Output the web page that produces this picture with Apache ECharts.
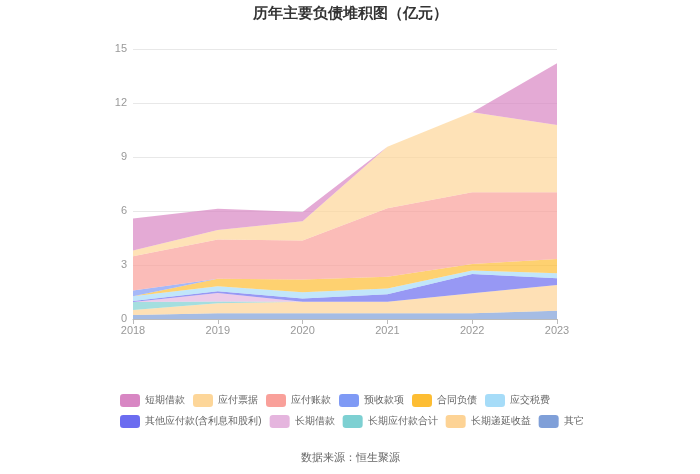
<!DOCTYPE html>
<html>
<head>
<meta charset="utf-8">
<script src="https://cdn.jsdelivr.net/npm/echarts@6/dist/echarts.min.js"></script>
<style>html,body{margin:0;padding:0;background:#fff;}#c{width:700px;height:474px;}</style>
</head>
<body>
<div id="c"></div>
<script>
var years = ['2018','2019','2020','2021','2022','2023'];
var yTicks = [0, 3, 6, 9, 12, 15];
var shortLoan = [1.77, 1.18, 0.52, 0, 0, 3.43];
var notesPayable = [0.33, 0.52, 1.07, 3.42, 4.44, 3.74];
var accountsPayable = [1.89, 2.19, 2.17, 3.80, 3.98, 3.71];
var advanceReceipts = [0.32, 0, 0, 0, 0, 0];
var contractLiab = [0, 0.41, 0.70, 0.65, 0.37, 0.79];
var taxPayable = [0.27, 0.28, 0.35, 0.33, 0.19, 0.28];
var otherPayable = [0.05, 0.10, 0.18, 0.41, 1.07, 0.37];
var longLoan = [0, 0.47, 0, 0, 0, 0];
var longPayable = [0.45, 0.10, 0, 0, 0, 0];
var deferredIncome = [0.28, 0.55, 0.64, 0.64, 1.11, 1.43];
var others = [0.22, 0.32, 0.32, 0.32, 0.32, 0.46];

var legendNames = ['短期借款','应付票据','应付账款','预收款项','合同负债','应交税费','其他应付款(含利息和股利)','长期借款','长期应付款合计','长期递延收益','其它'];
var colors = {
  '短期借款':'#d886c3','应付票据':'#fdd699','应付账款':'#f9a09a','预收款项':'#7f9af5',
  '合同负债':'#fdbd33','应交税费':'#a6dcf8','其他应付款(含利息和股利)':'#6b6cf0',
  '长期借款':'#e5b5de','长期应付款合计':'#7dd0d2','长期递延收益':'#fdd395','其它':'#7f9fd8'
};
// stack order bottom -> top
var stackOrder = [
  ['其它', others], ['长期递延收益', deferredIncome], ['长期应付款合计', longPayable],
  ['长期借款', longLoan], ['其他应付款(含利息和股利)', otherPayable], ['应交税费', taxPayable],
  ['合同负债', contractLiab], ['预收款项', advanceReceipts], ['应付账款', accountsPayable],
  ['应付票据', notesPayable], ['短期借款', shortLoan]
];
var series = stackOrder.map(function(s){
  return {
    name: s[0], type: 'line', stack: 'total', data: s[1],
    symbol: 'none', smooth: false,
    itemStyle: {color: colors[s[0]]},
    lineStyle: {width: 0},
    areaStyle: {color: colors[s[0]], opacity: 0.7}
  };
});
var chart = echarts.init(document.getElementById('c'));
chart.setOption({
  animation: false,
  title: [{
    text: '历年主要负债堆积图（亿元）', left: 'center', top: 1,
    textStyle: {fontSize: 15, fontWeight: 'bold', color: '#333'}
  },{
    text: '数据来源：恒生聚源', left: 'center', top: 447,
    textStyle: {fontSize: 11, fontWeight: 'normal', color: '#666'}
  }],
  legend: {
    data: legendNames, left: 115, top: 389, width: 470,
    itemWidth: 20, itemHeight: 13, itemGap: 8,
    icon: 'roundRect',
    textStyle: {fontSize: 10, color: '#666'}
  },
  grid: {left: 133, right: 143, top: 49, bottom: 155},
  xAxis: {
    type: 'category', data: years, boundaryGap: false,
    axisLine: {lineStyle: {color: '#bbb'}},
    axisTick: {show: true, lineStyle: {color: '#bbb'}},
    axisLabel: {color: '#999', fontSize: 11, margin: 6}
  },
  yAxis: {
    type: 'value', min: yTicks[0], max: yTicks[yTicks.length-1], interval: 3,
    axisLine: {show: false}, axisTick: {show: false},
    axisLabel: {color: '#999', fontSize: 11, margin: 6},
    splitLine: {lineStyle: {color: '#e8e8e8'}}
  },
  series: series
});
</script>
</body>
</html>
